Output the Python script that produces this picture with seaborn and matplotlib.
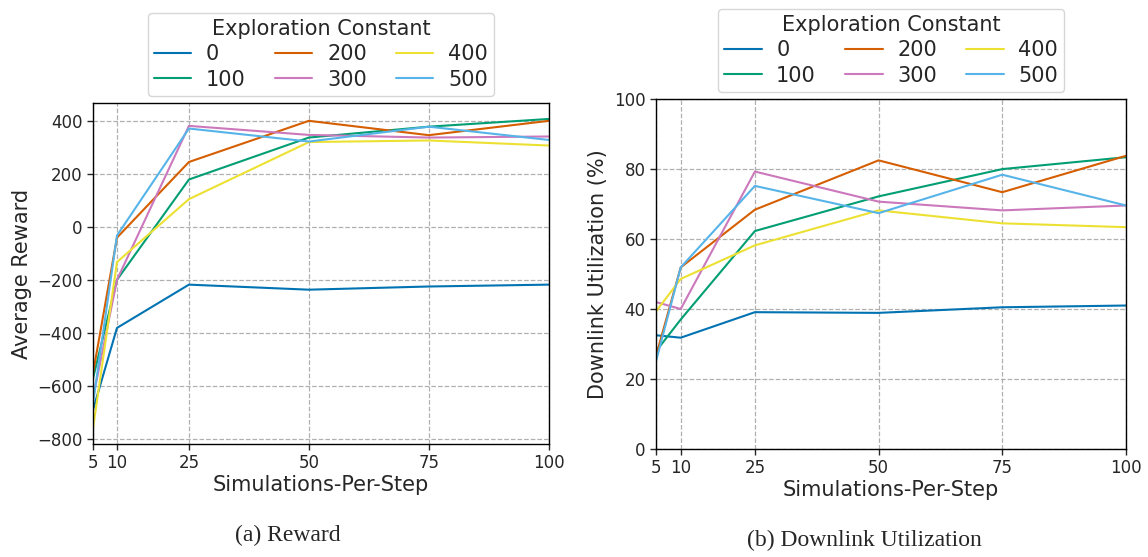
import numpy as np
import pandas as pd
import matplotlib
matplotlib.use("Agg")
import matplotlib.pyplot as plt
import seaborn as sns

sims = [5, 10, 25, 50, 75, 100]
constants = ['0', '100', '200', '300', '400', '500']

reward_0 = [-690, -381, -218, -237, -225, -218]
reward_100 = [-571, -200, 178, 336, 377, 406]
reward_200 = [-552, -41, 244, 399, 345, 399]
reward_300 = [-646, -200, 380, 346, 336, 340]
reward_400 = [-760, -133, 104, 319, 325, 306]
reward_500 = [-665, -33, 370, 321, 377, 327]

util_0 = [32.5, 31.8, 39.1, 38.9, 40.5, 41.0]
util_100 = [27.9, 37.0, 62.3, 72.2, 80.0, 83.4]
util_200 = [26.5, 51.9, 68.4, 82.5, 73.4, 83.8]
util_300 = [42.0, 40.0, 79.3, 70.7, 68.2, 69.6]
util_400 = [39.3, 48.6, 58.2, 68.2, 64.5, 63.4]
util_500 = [25.0, 51.9, 75.2, 67.4, 78.4, 69.6]


def to_long(series, name):
    rows = []
    for c, vals in zip(constants, series):
        for s, v in zip(sims, vals):
            rows.append({'sims': s, 'const': c, name: v})
    return pd.DataFrame(rows)


df_reward = to_long([reward_0, reward_100, reward_200, reward_300, reward_400, reward_500], 'reward')
df_util = to_long([util_0, util_100, util_200, util_300, util_400, util_500], 'util')

sns.set_style("ticks")
plt.rcParams['font.family'] = ['DejaVu Sans']

cb = sns.color_palette("colorblind")
palette = dict(zip(constants, [cb[0], cb[2], cb[3], cb[4], cb[8], cb[9]]))

fig = plt.figure(figsize=(11.48, 5.57), dpi=100)
ax1 = fig.add_axes([0.081, 0.203, 0.397, 0.612])
ax2 = fig.add_axes([0.5714, 0.194, 0.4094, 0.628])


def style_axis(ax, ylabel):
    ax.set_xlim(5, 100)
    ax.set_xticks(sims)
    ax.grid(True, linestyle='--', color='#b0b0b0', linewidth=0.9)
    ax.set_xlabel('Simulations-Per-Step', fontsize=15, labelpad=2)
    ax.set_ylabel(ylabel, fontsize=15)
    ax.tick_params(labelsize=12, direction='out', length=4, width=1)
    for sp in ax.spines.values():
        sp.set_color('black')
        sp.set_linewidth(1)
    handles, labels = ax.get_legend_handles_labels()
    ax.legend(handles, labels, title='Exploration Constant', ncol=3,
              loc='lower center', bbox_to_anchor=(0.5, 1.0),
              fontsize=15, title_fontsize=15, columnspacing=1.4,
              handlelength=1.8, handletextpad=0.7, borderpad=0.3,
              labelspacing=0.25, borderaxespad=0.35)


sns.lineplot(data=df_reward, x='sims', y='reward', hue='const', hue_order=constants,
             palette=palette, linewidth=1.5, ax=ax1)
ax1.set_ylim(-818, 466)
ax1.set_yticks([-800, -600, -400, -200, 0, 200, 400])
style_axis(ax1, 'Average Reward')

sns.lineplot(data=df_util, x='sims', y='util', hue='const', hue_order=constants,
             palette=palette, linewidth=1.5, ax=ax2)
ax2.set_ylim(0, 100)
ax2.set_yticks([0, 20, 40, 60, 80, 100])
style_axis(ax2, 'Downlink Utilization (%)')

fig.text(288 / 1148, 1 - 535 / 557, '(a) Reward', ha='center', va='center',
         fontsize=17, family='Liberation Serif')
fig.text(864 / 1148, 1 - 540 / 557, '(b) Downlink Utilization', ha='center', va='center',
         fontsize=17, family='Liberation Serif')

fig.savefig('out.png', dpi=100)
